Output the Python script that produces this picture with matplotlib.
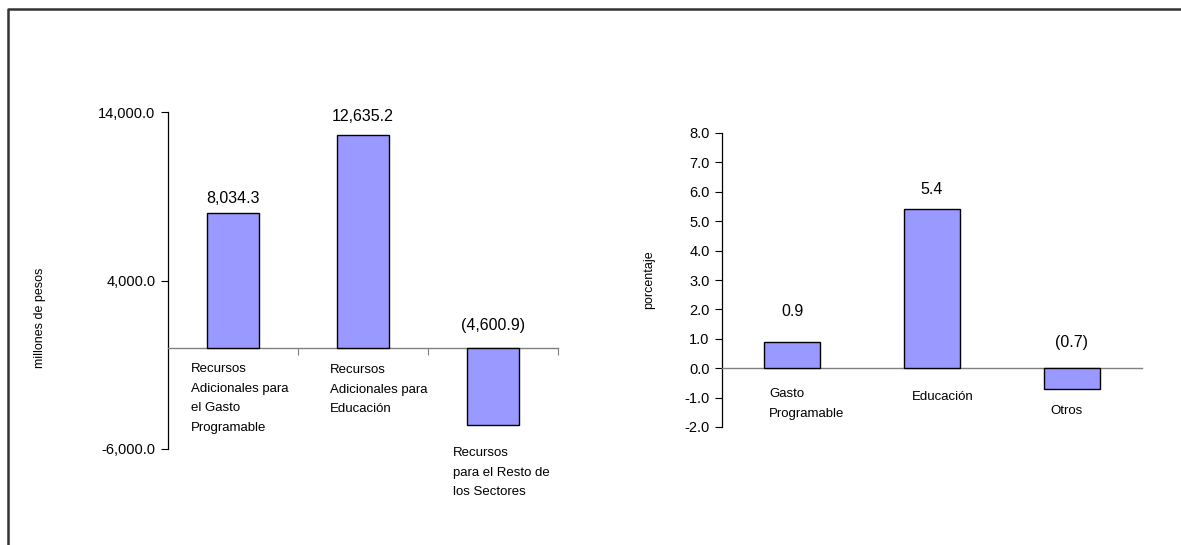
import matplotlib
matplotlib.use("Agg")
import matplotlib.pyplot as plt
from matplotlib.lines import Line2D

plt.rcParams["font.family"] = ["Liberation Sans", "DejaVu Sans"]

# ---- data ----
left_cats = ["Recursos\nAdicionales para\nel Gasto\nProgramable",
             "Recursos\nAdicionales para\nEducación",
             "Recursos\npara el Resto de\nlos Sectores"]
left_vals = [8034.3, 12635.2, -4600.9]
left_ticks = [-6000, 4000, 14000]

right_cats = ["Gasto\nProgramable", "Educación", "Otros"]
right_vals = [0.9, 5.4, -0.7]
right_ticks = [-2, -1, 0, 1, 2, 3, 4, 5, 6, 7, 8]

# ---- layout (pixels) ----
W, H = 1181, 545
BAR = "#9999FF"

# offsets of value labels / category labels, pixels
left_val_dy = [14, 18, 22]
left_cat_off = [(-42, -15), (-33, -16), (-40, -99)]
right_val_dy = [30, 20, 26]
right_cat_off = [(-23, -20), (-20, -23), (-22, -37)]


def fmt(v, dec=1):
    s = f"{abs(v):,.{dec}f}"
    return f"({s})" if v < 0 else s


fig = plt.figure(figsize=(W / 100, H / 100), dpi=100)

# frame of the figure (left and top edges only)
fig.add_artist(Line2D([7.5 / W, 7.5 / W, 1], [0, 1 - 9 / H, 1 - 9 / H],
                      transform=fig.transFigure, color="#333333", lw=1.8))


def setup(ax, ylim, ticks, tick_fmt, cat_ticks):
    ax.set_xlim(-0.5, 2.5)
    ax.set_ylim(*ylim)
    ax.set_yticks(ticks)
    ax.set_yticklabels([tick_fmt(t) for t in ticks], fontsize=10.5)
    ax.tick_params(axis="y", direction="out", length=5, width=0.8, pad=4)
    for s in ["top", "right"]:
        ax.spines[s].set_visible(False)
    ax.spines["left"].set_color("black")
    ax.spines["left"].set_linewidth(0.9)
    ax.spines["bottom"].set_position(("data", 0))
    ax.spines["bottom"].set_color("#808080")
    ax.spines["bottom"].set_linewidth(1.0)
    ax.set_xticks(cat_ticks)
    ax.set_xticklabels([])
    ax.tick_params(axis="x", direction="out", length=5, width=0.8, colors="#808080")
    ax.patch.set_alpha(0)


# ---- left panel ----
ax1 = fig.add_axes([168 / W, 1 - 449 / H, 390 / W, 337 / H])
setup(ax1, (-6000, 14000), left_ticks, lambda t: f"{t:,.1f}", [0.5, 1.5, 2.5])
x = range(len(left_vals))
ax1.bar(x, left_vals, width=0.4, color=BAR, edgecolor="black", linewidth=1.0, zorder=3)
for i, v in enumerate(left_vals):
    base = max(v, 0)
    ax1.annotate(fmt(v), (i, base), xytext=(0, left_val_dy[i]), textcoords="offset pixels",
                 ha="center", va="center", fontsize=11.5)
    ax1.annotate(left_cats[i], (i, 0), xytext=left_cat_off[i], textcoords="offset pixels",
                 ha="left", va="top", fontsize=9.5, linespacing=1.85)
fig.text(40 / W, 1 - 318 / H, "millones de pesos", rotation=90, ha="center", va="center",
         fontsize=9)

# ---- right panel ----
ax2 = fig.add_axes([722 / W, 1 - 427 / H, 420 / W, 294 / H])
setup(ax2, (-2, 8), right_ticks, lambda t: f"{t:.1f}", [])
x = range(len(right_vals))
ax2.bar(x, right_vals, width=0.4, color=BAR, edgecolor="black", linewidth=1.0, zorder=3)
for i, v in enumerate(right_vals):
    base = max(v, 0)
    ax2.annotate(fmt(v), (i, base), xytext=(0, right_val_dy[i]), textcoords="offset pixels",
                 ha="center", va="center", fontsize=11.5)
    ax2.annotate(right_cats[i], (i, 0), xytext=right_cat_off[i], textcoords="offset pixels",
                 ha="left", va="top", fontsize=9.5, linespacing=1.85)
fig.text(649 / W, 1 - 280 / H, "porcentaje", rotation=90, ha="center", va="center",
         fontsize=9)

fig.savefig("out.png", dpi=100)
